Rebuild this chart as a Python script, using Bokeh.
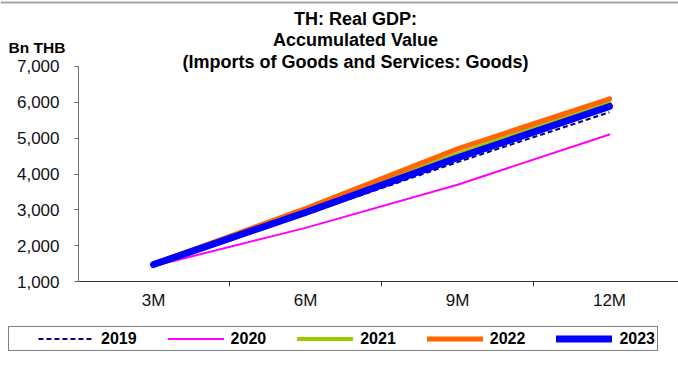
from bokeh.plotting import figure
from bokeh.models import Range1d, FixedTicker, Legend, LegendItem, Label, NumeralTickFormatter, Span
from bokeh.embed import file_html
from bokeh.resources import INLINE

periods = ["3M", "6M", "9M", "12M"]
years = ["2019", "2020", "2021", "2022", "2023"]
y2019 = [1460, 2880, 4330, 5720]
y2020 = [1440, 2500, 3700, 5100]
y2021 = [1470, 2980, 4560, 5990]
y2022 = [1490, 3040, 4700, 6090]
y2023 = [1480, 2930, 4450, 5880]
y_ticks = [1000, 2000, 3000, 4000, 5000, 6000, 7000]
title_lines = ["TH: Real GDP:", "Accumulated Value", "(Imports of Goods and Services: Goods)"]
unit_label = "Bn THB"

series = [y2019, y2020, y2021, y2022, y2023]
colors = ["#000080", "#FF00FF", "#99CC00", "#FF6600", "#0000FF"]
widths = [2, 2, 4, 5, 7]
dashes = ["5 3", "solid", "solid", "solid", "solid"]

x = list(range(len(periods)))
FONT = "Liberation Sans"

W, H = 678, 365
# pixel geometry of the plot area (page coordinates)
PX_LEFT, PX_FIRST, PX_STEP = 78.0, 153.0, 152.0
PY_TOP, PY_BOTTOM = 65.7, 281.3
y_lo, y_hi = y_ticks[0], y_ticks[-1]
ppu = (PY_BOTTOM - PY_TOP) / (y_hi - y_lo)

x_start = -PX_FIRST / PX_STEP
x_end = (W - PX_FIRST) / PX_STEP
x_axis_left = (PX_LEFT - PX_FIRST) / PX_STEP
y_start = y_lo - (H - PY_BOTTOM) / ppu
y_end = y_hi + PY_TOP / ppu

p = figure(width=W, height=H, output_backend="svg", toolbar_location=None,
           x_range=Range1d(x_start, x_end), y_range=Range1d(y_start, y_end),
           min_border=0, min_border_left=0, min_border_right=0,
           min_border_top=0, min_border_bottom=0, title=None)
p.outline_line_color = None
p.xgrid.visible = False
p.ygrid.visible = False
p.background_fill_color = "white"
p.border_fill_color = "white"

# thin grey frame line along the top of the chart object
p.add_layout(Span(location=y_end - 2.0 / ppu, dimension="width",
                  line_color="#a6a6a6", line_width=2))

renderers = []
for ys, c, w, d in zip(series, colors, widths, dashes):
    r = p.line(x, ys, line_color=c, line_width=w, line_dash=d,
               line_cap="round" if d == "solid" else "butt", line_join="round")
    renderers.append(r)

# y axis
ya = p.yaxis[0]
ya.fixed_location = x_axis_left
ya.bounds = (y_lo, y_hi)
ya.ticker = FixedTicker(ticks=y_ticks)
ya.formatter = NumeralTickFormatter(format="0,0")
ya.axis_line_color = "#6f6f6f"
ya.major_tick_line_color = "#6f6f6f"
ya.major_tick_out = 4
ya.major_tick_in = 0
ya.minor_tick_line_color = None
ya.major_label_standoff = 15
ya.major_label_text_font = FONT
ya.major_label_text_font_size = "17px"
ya.major_label_text_color = "#111111"

# x axis
xa = p.xaxis[0]
xa.fixed_location = y_lo
xa.bounds = (x_axis_left, x_end)
xa.ticker = FixedTicker(ticks=x, minor_ticks=[0.5, 1.5, 2.5])
xa.major_label_overrides = {i: lab for i, lab in zip(x, periods)}
xa.axis_line_color = "#333333"
xa.major_tick_out = 0
xa.major_tick_in = 0
xa.minor_tick_out = 5
xa.minor_tick_in = 0
xa.minor_tick_line_color = "#333333"
xa.major_label_standoff = 4
xa.major_label_text_font = FONT
xa.major_label_text_font_size = "17px"
xa.major_label_text_color = "#111111"

# titles (screen units, frame = whole figure, y measured from bottom)
for txt, yy in zip(title_lines, [18, 39.5, 61]):
    p.add_layout(Label(x=355, y=H - yy, x_units="screen", y_units="screen", text=txt,
                       text_align="center", text_baseline="middle",
                       text_font=FONT, text_font_size="18px", text_font_style="bold",
                       text_color="black"))
p.add_layout(Label(x=8, y=H - 47, x_units="screen", y_units="screen", text=unit_label,
                   text_align="left", text_baseline="middle",
                   text_font=FONT, text_font_size="15.5px", text_font_style="bold",
                   text_color="black"))

items = [LegendItem(label=yr, renderers=[r]) for yr, r in zip(years, renderers)]
legend = Legend(items=items, orientation="horizontal", location=(8, H - 351),
                glyph_width=56, glyph_height=19, label_height=19, label_standoff=7,
                spacing=31, padding=2, margin=0,
                border_line_color="black", border_line_width=1,
                background_fill_color="white", background_fill_alpha=1,
                label_text_font=FONT, label_text_font_style="bold",
                label_text_font_size="16px", label_text_color="black",
                title=" ", title_location="left", title_standoff=26,
                title_text_font_size="1px")
p.add_layout(legend, "center")

open("out.html", "w").write(file_html(p, INLINE))
